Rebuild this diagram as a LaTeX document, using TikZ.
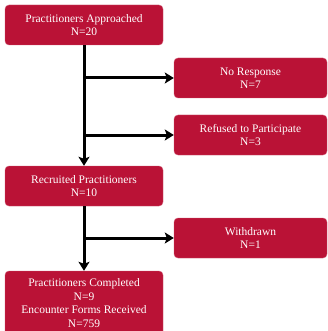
\documentclass[tikz,border=0pt]{standalone}
\usepackage{fontspec}
\setmainfont{Liberation Serif}
\usetikzlibrary{arrows.meta,positioning}
\definecolor{crimson}{RGB}{186,18,54}
\tikzset{
    stagebox/.style={fill=crimson,draw=crimson!70!white,rounded corners=4pt,text=white,
        align=center,font=\fontsize{11.5}{13.5}\selectfont,inner sep=0pt},
    mainbox/.style={stagebox,minimum width=158pt,minimum height=40pt},
    sidebox/.style={stagebox,minimum width=153pt,minimum height=40pt},
    flow/.style={line width=3pt,-{Stealth[length=9pt,width=11pt,inset=2pt]}}
}
\begin{document}
\begin{tikzpicture}[x=1pt,y=-1pt]
    \useasboundingbox (0,0) rectangle (328,331);

    \node[mainbox] (approached) at (84,25) {Practitioners Approached\\N=20};
    \node[sidebox] (noresp) at (250.5,78) {No Response\\N=7};
    \node[sidebox] (refused) at (250.5,135) {Refused to Participate\\N=3};
    \node[mainbox] (recruited) at (84,186) {Recruited Practitioners\\N=10};
    \node[sidebox] (withdrawn) at (250.5,238) {Withdrawn\\N=1};
    \node[mainbox,minimum height=64pt] (completed) at (84,303) {Practitioners Completed\\N=9\\Encounter Forms Received\\N=759};

    % branch points on the main line
    \coordinate (b1) at (approached.south |- noresp.west);
    \coordinate (b2) at (approached.south |- refused.west);
    \coordinate (b3) at (recruited.south |- withdrawn.west);

    \draw[flow] (approached.south) -- (recruited.north);
    \draw[flow] (b1) -- (noresp.west);
    \draw[flow] (b2) -- (refused.west);
    \draw[flow] (recruited.south) -- (completed.north);
    \draw[flow] (b3) -- (withdrawn.west);
\end{tikzpicture}
\end{document}
